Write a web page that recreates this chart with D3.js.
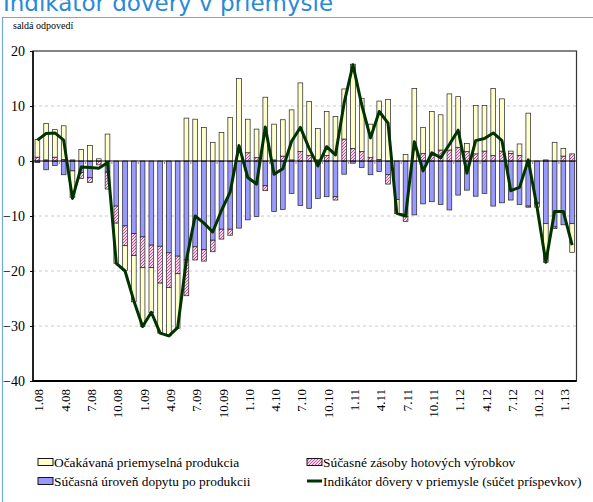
<!DOCTYPE html>
<html><head><meta charset="utf-8">
<script src="https://cdn.jsdelivr.net/npm/d3@7"></script>
<style>body{margin:0;background:#fff}svg{display:block}.serif{font-family:"Liberation Serif","Times New Roman",serif}</style>
</head><body>
<script>
const categories = ["1.08","2.08","3.08","4.08","5.08","6.08","7.08","8.08","9.08","10.08","11.08","12.08",
"1.09","2.09","3.09","4.09","5.09","6.09","7.09","8.09","9.09","10.09","11.09","12.09",
"1.10","2.10","3.10","4.10","5.10","6.10","7.10","8.10","9.10","10.10","11.10","12.10",
"1.11","2.11","3.11","4.11","5.11","6.11","7.11","8.11","9.11","10.11","11.11","12.11",
"1.12","2.12","3.12","4.12","5.12","6.12","7.12","8.12","9.12","10.12","11.12","12.12",
"1.13","2.13"];
// Súčasná úroveň dopytu po produkcii
const dopyt = [-0.3,-1.6,-0.8,-2.5,-1.8,-2.1,-3.0,0.0,-2.0,-8.2,-11.8,-13.2,
-13.8,-15.3,-15.5,-16.7,-17.3,-18.0,-15.6,-16.1,-14.4,-12.4,-12.4,-12.2,
-10.7,-10.1,-4.5,-9.2,-8.8,-5.9,-8.1,-8.6,-6.8,-6.5,-6.5,-2.4,
-0.4,-1.2,-2.5,-1.9,-2.5,-7.0,-10.1,-9.8,-7.8,-7.4,-7.9,-8.9,
-6.2,-5.3,-6.4,-5.9,-8.2,-7.6,-7.1,-7.9,-8.2,-7.6,-11.4,-12.0,
-11.6,-11.4];
// Súčasné zásoby hotových výrobkov
const zasoby = [0.7,0.2,0.7,0.3,0.2,-1.1,-0.9,-0.7,-3.1,-3.1,-3.6,-4.0,
-5.6,-4.1,-6.7,-6.3,-3.2,-6.5,-2.4,-2.1,-2.1,-1.8,-1.1,0.0,
1.5,0.6,-0.9,0.2,0.9,0.2,1.7,1.0,0.2,1.0,-0.6,4.0,
2.3,1.7,0.6,0.3,-1.7,0.0,-0.9,0.0,1.4,1.0,2.0,2.0,
2.5,1.7,1.3,1.8,1.0,1.8,1.4,1.0,-0.2,-0.2,0.2,-0.3,
0.9,1.3];
// Očakávaná priemyselná produkcia
const ocakavana = [3.2,6.6,5.0,6.1,-4.8,2.1,2.8,0.4,4.9,-7.3,-4.5,-8.4,
-10.7,-8.2,-9.1,-8.8,-9.9,7.8,7.6,6.1,3.4,5.2,7.9,15.0,
6.1,5.2,11.6,6.5,6.6,9.1,12.5,9.8,5.7,8.0,8.1,9.1,
15.3,9.7,6.1,10.6,11.2,-2.5,1.2,13.2,4.7,8.0,6.4,10.2,
9.2,1.5,8.8,8.3,12.2,9.5,0.4,2.1,8.7,-0.6,-7.0,3.4,
1.4,-5.2];
// Indikátor dôvery v priemysle (súčet príspevkov)
const indikator = [3.8,5.0,5.1,3.8,-6.8,-1.1,-1.2,-1.3,-0.3,-18.6,-20.0,-25.4,
-30.1,-27.5,-31.3,-31.8,-30.3,-18.0,-10.0,-11.3,-12.9,-9.0,-5.6,2.8,
-3.0,-4.2,6.2,-2.4,-1.4,3.6,6.1,2.3,-0.9,2.6,1.1,10.6,
17.5,10.2,4.2,9.0,6.9,-9.5,-10.0,3.5,-1.8,1.5,0.6,3.0,
5.6,-2.2,3.7,4.1,5.1,3.7,-5.4,-4.8,0.2,-8.4,-18.4,-9.2,
-9.2,-15.3];
const yTicks = [20,10,0,-10,-20,-30,-40];
const seriesNames = ["Očakávaná priemyselná produkcia","Súčasné zásoby hotových výrobkov",
"Súčasná úroveň dopytu po produkcii","Indikátor dôvery v priemysle (súčet príspevkov)"];

const W=593,H=502;
const svg=d3.select("body").append("svg").attr("width",W).attr("height",H);
const defs=svg.append("defs");
const pat=defs.append("pattern").attr("id","pinkHatch").attr("patternUnits","userSpaceOnUse")
  .attr("width",3).attr("height",3);
pat.append("rect").attr("width",3).attr("height",3).attr("fill","#F6D6EA");
pat.append("path").attr("d","M0,3 L3,0 M-1,1 L1,-1 M2,4 L4,2").attr("stroke","#C2559A").attr("stroke-width",1);

// frame & title
svg.append("text").attr("x",3).attr("y",11).attr("font-family","DejaVu Sans").attr("font-size",23)
  .attr("fill","#2A8AD6").text("Indikátor dôvery v priemysle");
svg.append("path").attr("d","M2.5,502 V17.5 H593").attr("fill","none").attr("stroke","#6FA8DC").attr("stroke-width",1.2);

svg.append("text").attr("class","serif").attr("x",13).attr("y",29).attr("font-size",10)
  .attr("fill","#000").text("saldá odpovedí");

const L=33,R=576.5,T=51,B=381;
const x=d3.scaleBand().domain(categories).range([L,R]).paddingInner(0.46).paddingOuter(0.23);
const y=d3.scaleLinear().domain([-40,20]).range([B,T]);

// grid
const g=svg.append("g");
g.selectAll("line.grid").data(yTicks.filter(v=>v!==20&&v!==-40&&v!==0)).join("line")
  .attr("x1",L).attr("x2",R).attr("y1",d=>y(d)).attr("y2",d=>y(d))
  .attr("stroke","#BDBDBD").attr("stroke-width",0.8).attr("stroke-dasharray","3,3");

// bars
const table=categories.map((c,i)=>({cat:c,dopyt:dopyt[i],zasoby:zasoby[i],ocakavana:ocakavana[i]}));
const stack=d3.stack().keys(["dopyt","zasoby","ocakavana"]).offset(d3.stackOffsetDiverging)(table);
const fills={dopyt:"#9999FF",zasoby:"url(#pinkHatch)",ocakavana:"#FFFFCC"};
stack.forEach(s=>{
  g.append("g").selectAll("rect").data(s).join("rect")
   .attr("x",d=>x(d.data.cat)).attr("width",x.bandwidth())
   .attr("y",d=>y(Math.max(d[0],d[1]))).attr("height",d=>Math.abs(y(d[0])-y(d[1])))
   .attr("fill",fills[s.key]).attr("stroke","#222").attr("stroke-width",0.7);
});

// zero axis
g.append("line").attr("x1",L).attr("x2",R).attr("y1",y(0)).attr("y2",y(0)).attr("stroke","#000").attr("stroke-width",1);
const gap=(x.step()-x.bandwidth())/2;
g.selectAll("line.ct").data(categories.filter((c,i)=>i%3===0)).join("line")
  .attr("x1",d=>x(d)-gap).attr("x2",d=>x(d)-gap)
  .attr("y1",y(0)).attr("y2",y(0)+3).attr("stroke","#888").attr("stroke-width",1);

// line
g.append("path").datum(indikator).attr("fill","none").attr("stroke","#003300").attr("stroke-width",3)
  .attr("stroke-linejoin","round")
  .attr("d",d3.line().x((d,i)=>x(categories[i])+x.bandwidth()/2).y(d=>y(d)));

// plot border
g.append("rect").attr("x",L).attr("y",T).attr("width",R-L).attr("height",B-T)
  .attr("fill","none").attr("stroke","#333").attr("stroke-width",1.2);
g.append("line").attr("x1",L).attr("x2",R).attr("y1",B).attr("y2",B).attr("stroke","#000").attr("stroke-width",1.8);
g.append("line").attr("x1",L).attr("x2",L).attr("y1",T).attr("y2",B).attr("stroke","#000").attr("stroke-width",1.5);

// y axis
const ya=svg.append("g").attr("transform",`translate(${L},0)`)
  .call(d3.axisLeft(y).tickValues(yTicks).tickSize(3).tickPadding(5).tickFormat(d3.format("d")));
ya.attr("font-family",null);
ya.select(".domain").remove();
ya.selectAll("text").attr("class","serif").attr("font-size",14).attr("fill","#000");
ya.selectAll("line").attr("stroke","#000");

// x labels
svg.append("g").selectAll("text").data(categories.filter((c,i)=>i%3===0)).join("text")
  .attr("class","serif")
  .attr("transform",d=>`translate(${x(d)+x.bandwidth()/2+1.5},389) rotate(-90)`)
  .attr("text-anchor","end").attr("dy","0.35em")
  .attr("font-size",13).attr("fill","#000").text(d=>d);

// legend
const lg=svg.append("g").attr("class","serif").attr("font-size",13.4);
const items=[
 {x:38,y:462,type:"rect",fill:"#FFFFCC",name:seriesNames[0]},
 {x:307,y:462,type:"rect",fill:"url(#pinkHatch)",name:seriesNames[1]},
 {x:38,y:481,type:"rect",fill:"#9999FF",name:seriesNames[2]},
 {x:307,y:481,type:"line",name:seriesNames[3]}];
items.forEach(it=>{
  if(it.type==="rect") lg.append("rect").attr("x",it.x).attr("y",it.y-3.5).attr("width",15).attr("height",7)
     .attr("fill",it.fill).attr("stroke","#000").attr("stroke-width",0.9);
  else lg.append("line").attr("x1",it.x).attr("x2",it.x+15).attr("y1",it.y).attr("y2",it.y)
     .attr("stroke","#003300").attr("stroke-width",3);
  lg.append("text").attr("x",it.x+16).attr("y",it.y).attr("dy","0.35em").text(it.name);
});
</script>
</body></html>
